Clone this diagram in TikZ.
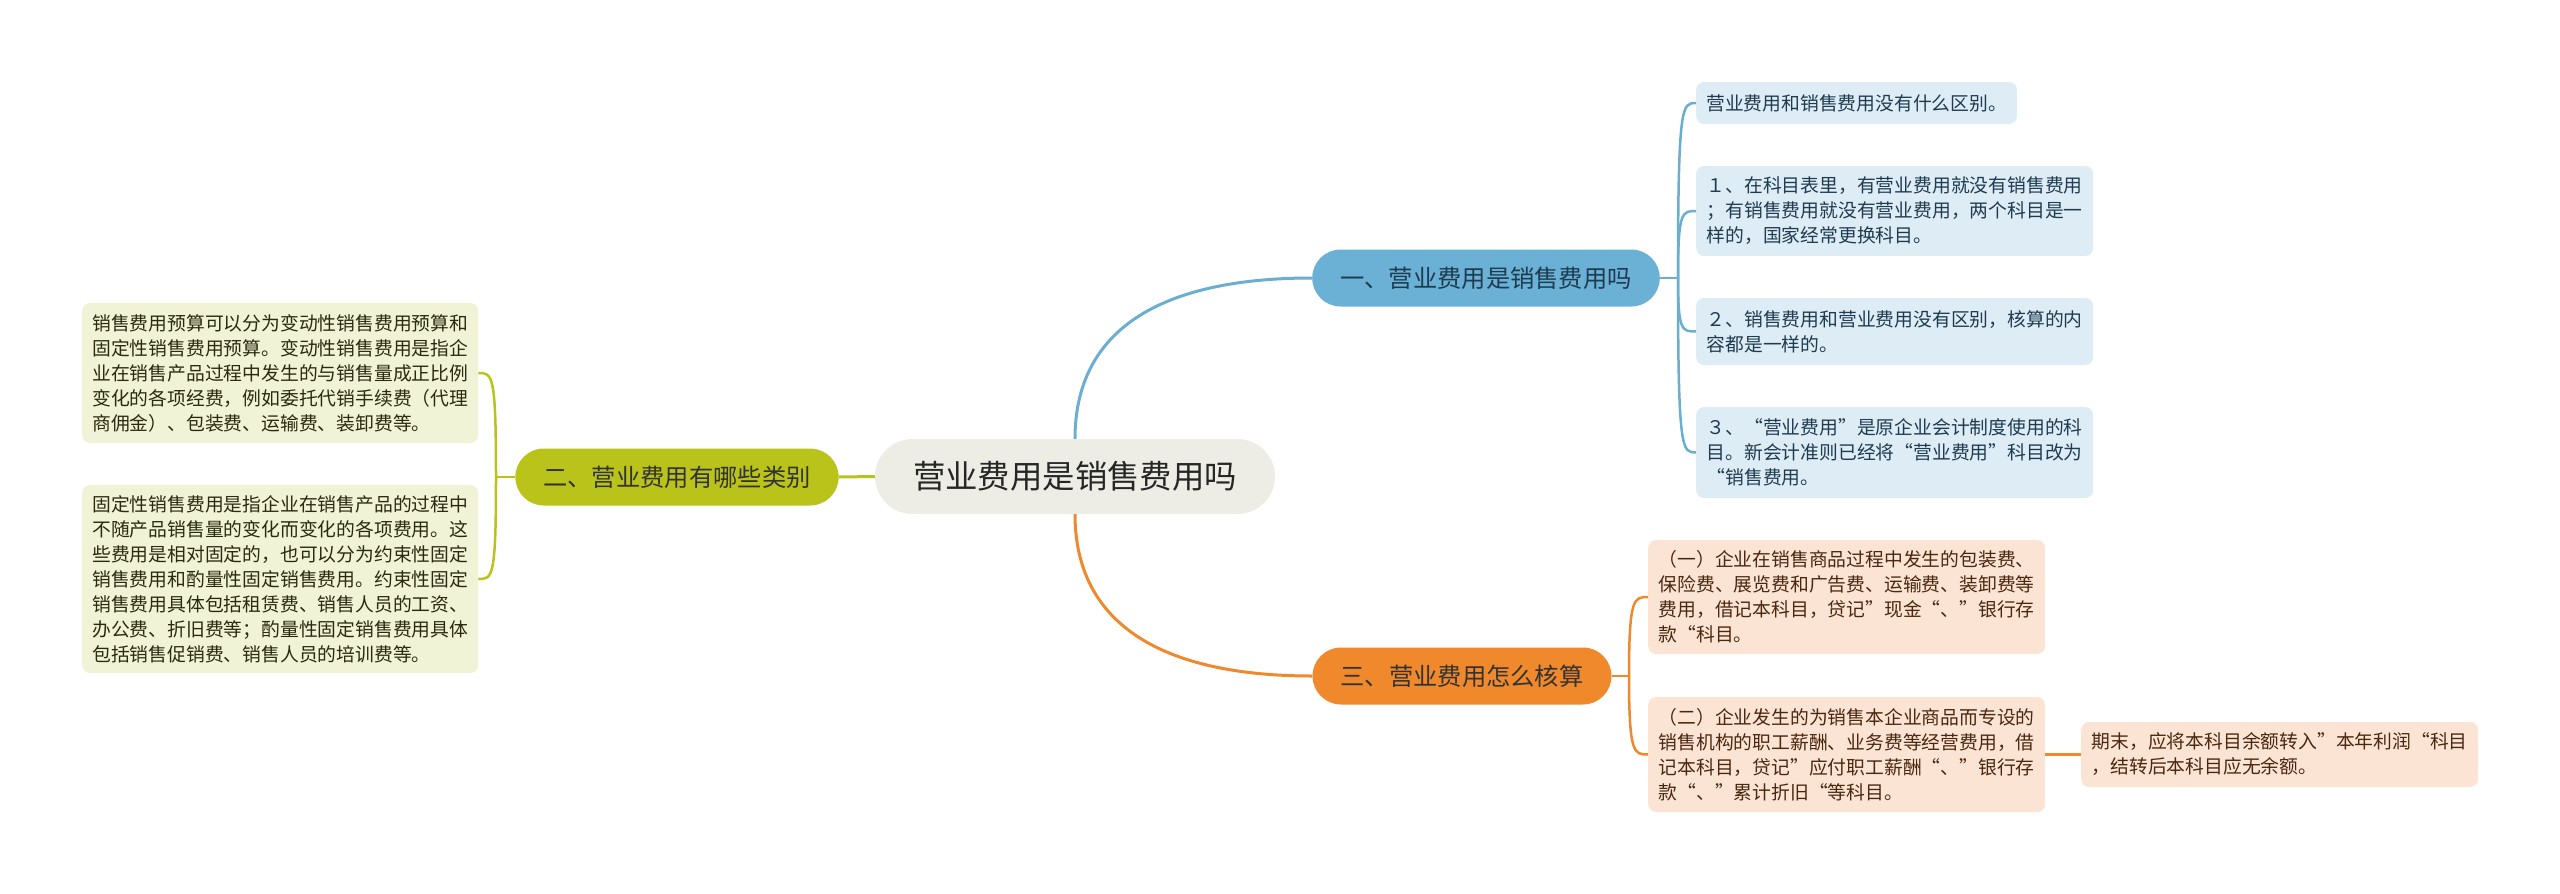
\documentclass[tikz,border=0pt]{standalone}
\usepackage{fontspec}
\setmainfont{Noto Sans CJK SC}
\definecolor{bline}{HTML}{6AAED0}
\definecolor{bnode}{HTML}{6BB0D5}
\definecolor{bleaffill}{HTML}{DEECF5}
\definecolor{btext}{HTML}{1E3B50}
\definecolor{gline}{HTML}{B9C31A}
\definecolor{gleaffill}{HTML}{F1F3D6}
\definecolor{gtext}{HTML}{2A2A10}
\definecolor{oline}{HTML}{F0882C}
\definecolor{oleaffill}{HTML}{FCE4D5}
\definecolor{otext}{HTML}{4A2810}
\definecolor{cfill}{HTML}{EDEDE6}
\tikzset{
  leaf/.style={rounded corners=8pt, inner xsep=10pt, inner ysep=0pt, align=left,
    font=\fontsize{18.8}{25}\selectfont, anchor=west},
  bleaf/.style={leaf, fill=bleaffill, text=btext},
  gleaf/.style={leaf, fill=gleaffill, text=gtext},
  oleaf/.style={leaf, fill=oleaffill, text=otext},
  branch/.style={rounded corners=28.5pt, minimum height=57pt, inner xsep=28pt, inner ysep=0pt,
    font=\fontsize{24.3}{28}\selectfont},
  mainline/.style={line width=3pt},
  subline/.style={line width=2.5pt},
}
\begin{document}
\begin{tikzpicture}[x=1pt,y=-1pt]
\useasboundingbox (0,0) rectangle (2560,894);

% central
\node[rounded corners=37.5pt, fill=cfill, minimum height=75pt, inner xsep=38pt, inner ysep=0pt,
  font=\fontsize{32.4}{36}\selectfont, text=black!85] (c) at (1075,476.5) {营业费用是销售费用吗};

% branches
\node[branch, fill=bnode, text=btext] (b) at (1486,278) {一、营业费用是销售费用吗};
\node[branch, fill=gline, text=black!80] (g) at (677,477) {二、营业费用有哪些类别};
\node[branch, fill=oline, text=black!80] (o) at (1462,676) {三、营业费用怎么核算};

% blue leaves
\node[bleaf, minimum height=42pt] (b1) at (1696,103) {营业费用和销售费用没有什么区别。};
\node[bleaf, minimum height=90pt, minimum width=397pt] (b2) at (1696,211) {１、在科目表里，有营业费用就没有销售费用\\；有销售费用就没有营业费用，两个科目是一\\样的，国家经常更换科目。};
\node[bleaf, minimum height=67pt, minimum width=397pt] (b3) at (1696,331.5) {２、销售费用和营业费用没有区别，核算的内\\容都是一样的。};
\node[bleaf, minimum height=91pt, minimum width=397pt] (b4) at (1696,452.5) {３、“营业费用”是原企业会计制度使用的科\\目。新会计准则已经将“营业费用”科目改为\\“销售费用。};

% green leaves
\node[gleaf, minimum height=140pt, minimum width=396pt] (g1) at (82,373) {销售费用预算可以分为变动性销售费用预算和\\固定性销售费用预算。变动性销售费用是指企\\业在销售产品过程中发生的与销售量成正比例\\变化的各项经费，例如委托代销手续费（代理\\商佣金）、包装费、运输费、装卸费等。};
\node[gleaf, minimum height=188pt, minimum width=396pt] (g2) at (82,579) {固定性销售费用是指企业在销售产品的过程中\\不随产品销售量的变化而变化的各项费用。这\\些费用是相对固定的，也可以分为约束性固定\\销售费用和酌量性固定销售费用。约束性固定\\销售费用具体包括租赁费、销售人员的工资、\\办公费、折旧费等；酌量性固定销售费用具体\\包括销售促销费、销售人员的培训费等。};

% orange leaves
\node[oleaf, minimum height=114pt, minimum width=397pt] (o1) at (1648,597) {（一）企业在销售商品过程中发生的包装费、\\保险费、展览费和广告费、运输费、装卸费等\\费用，借记本科目，贷记”现金“、”银行存\\款“科目。};
\node[oleaf, minimum height=115pt, minimum width=397pt] (o2) at (1648,754.5) {（二）企业发生的为销售本企业商品而专设的\\销售机构的职工薪酬、业务费等经营费用，借\\记本科目，贷记”应付职工薪酬“、”银行存\\款“、”累计折旧“等科目。};
\node[oleaf, minimum height=65pt, minimum width=397pt] (o3) at (2081,754.5) {期末，应将本科目余额转入”本年利润“科目\\，结转后本科目应无余额。};

% main connectors
\draw[mainline, bline] (c.north) .. controls (1075,330) and (1160,278) .. (b.west);
\draw[mainline, oline] (c.south) .. controls (1075,623) and (1160,676) .. (o.west);
\draw[mainline, gline] (c.west) -- (g.east);

% blue sub connectors
\coordinate (bp) at (1678,278);
\draw[subline, bline] (b.east) -- (bp);
\foreach \l in {b1,b2,b3,b4}{
  \draw[subline, bline] (bp) .. controls (bp |- \l.west) and ([xshift=-14pt]\l.west) .. (\l.west);
}

% green sub connectors
\coordinate (gp) at (496,477);
\draw[subline, gline] (g.west) -- (gp);
\foreach \l in {g1,g2}{
  \draw[subline, gline] (gp) .. controls (gp |- \l.east) and ([xshift=14pt]\l.east) .. (\l.east);
}

% orange sub connectors
\coordinate (op) at (1629,676);
\draw[subline, oline] (o.east) -- (op);
\foreach \l in {o1,o2}{
  \draw[subline, oline] (op) .. controls (op |- \l.west) and ([xshift=-14pt]\l.west) .. (\l.west);
}
\draw[subline, oline] (o2.east) -- (o3.west);
\end{tikzpicture}
\end{document}
